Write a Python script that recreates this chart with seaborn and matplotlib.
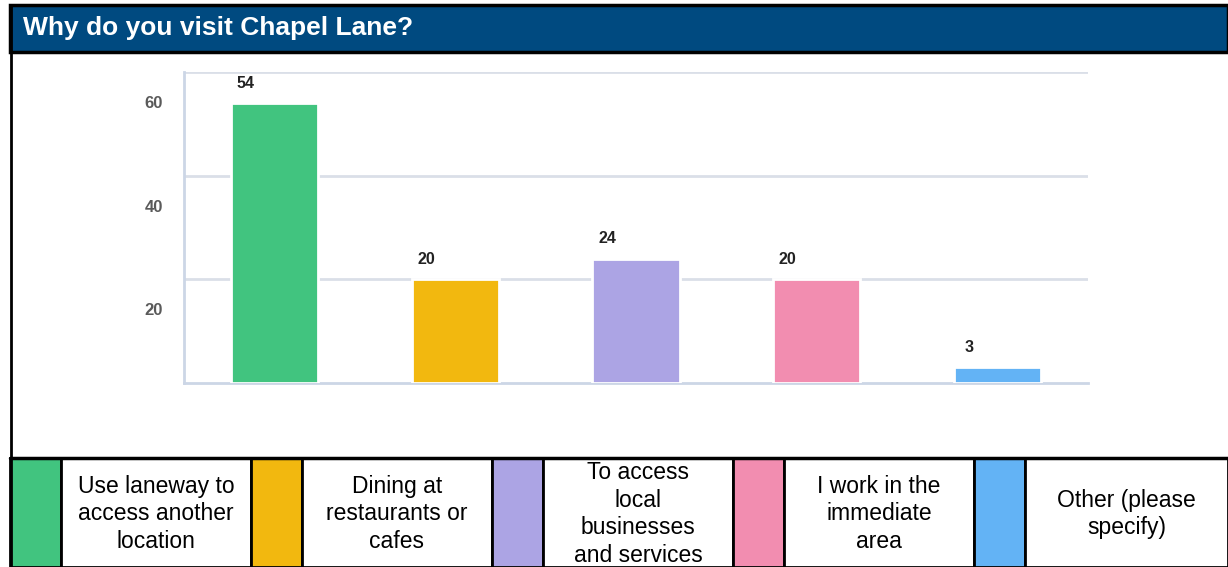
import matplotlib
matplotlib.use("Agg")
import matplotlib.pyplot as plt
import matplotlib.transforms as mtransforms
from matplotlib.patches import Rectangle
import seaborn as sns
import pandas as pd

title = "Why do you visit Chapel Lane?"
categories = ["Use laneway to access another location",
              "Dining at restaurants or cafes",
              "To access local businesses and services",
              "I work in the immediate area",
              "Other (please specify)"]
legend_labels = ["Use laneway to\naccess another\nlocation",
                 "Dining at\nrestaurants or\ncafes",
                 "To access\nlocal\nbusinesses\nand services",
                 "I work in the\nimmediate\narea",
                 "Other (please\nspecify)"]
values = [54, 20, 24, 20, 3]
colors = ["#41C47F", "#F2B80F", "#ACA4E4", "#F28DB0", "#63B3F5"]
yticks = [20, 40, 60]

sns.set_style("white")
plt.rcParams['font.family'] = ['Liberation Sans', 'DejaVu Sans']

W, H = 1228, 567
fig = plt.figure(figsize=(W / 100, H / 100), dpi=100)

def fx(px):
    return px / W

def fy(py):
    return 1 - py / H

# title bar
fig.add_artist(Rectangle((fx(10), fy(52)), fx(1228 - 10), 47 / H, transform=fig.transFigure,
                         facecolor="#004A80", edgecolor="black", lw=2.5))
fig.text(fx(23), fy(28), title, color="white", fontsize=19, fontweight="bold", va="center", ha="left")
# left frame line
fig.add_artist(plt.Line2D([fx(11), fx(11)], [0, fy(6)], transform=fig.transFigure, color="black", lw=2))

# chart
ax = fig.add_axes([fx(184), fy(383), fx(1088 - 184), (383 - 72) / H])
df = pd.DataFrame({"reason": categories, "count": values})
sns.barplot(data=df, x="reason", y="count", hue="reason", palette=colors, legend=False,
            saturation=1, width=0.483, edgecolor="white", linewidth=2, ax=ax, zorder=3)
ax.set_ylim(0, 60)
ax.set_xlim(-0.5, 4.5)
ax.set_yticks(yticks)
ax.set_xticks([])
ax.set_xlabel("")
ax.set_ylabel("")
ax.yaxis.grid(True, color="#DADFE8", lw=2)
ax.set_axisbelow(True)
for s in ["top", "right"]:
    ax.spines[s].set_visible(False)
for s in ["left", "bottom"]:
    ax.spines[s].set_color("#CCD6E6")
    ax.spines[s].set_linewidth(2)
ax.tick_params(axis="y", length=0, pad=15, labelsize=12, labelcolor="#5A5A5A")
shift = mtransforms.ScaledTranslation(0, -0.30, fig.dpi_scale_trans)
for lab in ax.get_yticklabels():
    lab.set_fontweight("bold")
    lab.set_transform(lab.get_transform() + shift)

for i, v in enumerate(values):
    ax.annotate(str(v), (i, v), xytext=(-29, 20), textcoords="offset pixels",
                ha="center", va="center", fontsize=11.5, fontweight="bold", color="#222222")

# legend table
top = 458
fig.add_artist(plt.Line2D([fx(10), 1], [fy(top), fy(top)], transform=fig.transFigure, color="black", lw=2.5))
for i, (lab, c) in enumerate(zip(legend_labels, colors)):
    x0 = 10 + i * 241
    fig.add_artist(Rectangle((fx(x0), 0), fx(51), fy(top), transform=fig.transFigure,
                             facecolor=c, edgecolor="black", lw=2))
    x1 = x0 + 51
    x2 = x0 + 241 if i < 4 else 1228
    fig.add_artist(Rectangle((fx(x1), 0), fx(x2 - x1), fy(top), transform=fig.transFigure,
                             facecolor="white", edgecolor="black", lw=2))
    fig.text(fx((x1 + x2) / 2), fy(514), lab, ha="center", va="center", fontsize=16.5,
             linespacing=1.26, color="black", zorder=5)

fig.savefig("out.png", dpi=100)
